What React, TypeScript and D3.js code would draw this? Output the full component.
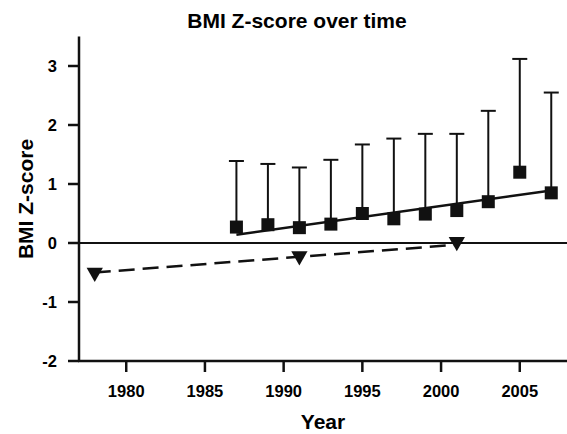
import React from "react";
import * as d3 from "d3";

const years = [1987, 1989, 1991, 1993, 1995, 1997, 1999, 2001, 2003, 2005, 2007];
const meanZ = [0.27, 0.31, 0.26, 0.32, 0.5, 0.41, 0.49, 0.55, 0.7, 1.2, 0.85];
const upperZ = [1.39, 1.34, 1.28, 1.41, 1.67, 1.77, 1.85, 1.85, 2.24, 3.12, 2.55];
const fitYears = [1987, 2007];
const fitZ = [0.14, 0.89];
const triYears = [1978, 1991, 2001];
const triZ = [-0.5, -0.22, 0.02];
const triFitYears = [1978, 2001];
const triFitZ = [-0.5, -0.03];
const xTicks = [1980, 1985, 1990, 1995, 2000, 2005];
const yTicks = [-2, -1, 0, 1, 2, 3];

const W = 567;
const H = 434;
const FONT = "'Liberation Sans', Arial, Helvetica, sans-serif";

export default function App() {
  const x = d3.scaleLinear().domain([1977, 2008]).range([79, 567]);
  const y = d3.scaleLinear().domain([-2, 3.5]).range([361, 36.5]);
  const line = d3.line<[number, number]>().x((d) => x(d[0])).y((d) => y(d[1]));
  const fit = line(fitYears.map((v, i) => [v, fitZ[i]] as [number, number]));
  const triFit = line(triFitYears.map((v, i) => [v, triFitZ[i]] as [number, number]));
  const sq = 13;
  const cap = 15;
  const tri = d3.symbol().type(d3.symbolTriangle).size(115)();

  return (
    <svg
      width={W}
      height={H}
      style={{ position: "absolute", left: 0, top: 0, background: "#fff" }}
      fontFamily={FONT}
    >
      <rect width={W} height={H} fill="#fff" />
      <text x={297} y={28} textAnchor="middle" fontSize={21} fontWeight="bold">
        BMI Z-score over time
      </text>
      {/* zero line */}
      <line x1={x(1977)} x2={x(2008)} y1={y(0)} y2={y(0)} stroke="#111" strokeWidth={2} />
      {/* y axis */}
      <line x1={79} x2={79} y1={y(3.5)} y2={y(-2) + 1} stroke="#111" strokeWidth={2.5} />
      {yTicks.map((t) => (
        <g key={t}>
          <line x1={68} x2={79} y1={y(t)} y2={y(t)} stroke="#111" strokeWidth={2.5} />
          <text x={57} y={y(t)} dy="0.36em" textAnchor="end" fontSize={16.5} fontWeight="bold">
            {t}
          </text>
        </g>
      ))}
      {/* x axis */}
      <line x1={78} x2={567} y1={y(-2)} y2={y(-2)} stroke="#111" strokeWidth={2.5} />
      {xTicks.map((t) => (
        <g key={t}>
          <line x1={x(t)} x2={x(t)} y1={y(-2)} y2={y(-2) + 11} stroke="#111" strokeWidth={2.5} />
          <text x={x(t)} y={397} textAnchor="middle" fontSize={16.5} fontWeight="bold">
            {t}
          </text>
        </g>
      ))}
      <text x={323} y={429} textAnchor="middle" fontSize={21} fontWeight="bold">
        Year
      </text>
      <text
        transform={`translate(33,199) rotate(-90)`}
        textAnchor="middle"
        fontSize={21}
        fontWeight="bold"
      >
        BMI Z-score
      </text>
      {/* error bars */}
      {years.map((yr, i) => (
        <g key={yr} stroke="#111" strokeWidth={2}>
          <line x1={x(yr)} x2={x(yr)} y1={y(meanZ[i])} y2={y(upperZ[i])} />
          <line x1={x(yr) - cap / 2} x2={x(yr) + cap / 2} y1={y(upperZ[i])} y2={y(upperZ[i])} />
        </g>
      ))}
      <path d={fit || ""} fill="none" stroke="#111" strokeWidth={2.5} />
      <path d={triFit || ""} fill="none" stroke="#111" strokeWidth={2.5} strokeDasharray="16,8" />
      {years.map((yr, i) => (
        <rect
          key={yr}
          x={x(yr) - sq / 2}
          y={y(meanZ[i]) - sq / 2}
          width={sq}
          height={sq}
          fill="#111"
        />
      ))}
      {triYears.map((yr, i) => (
        <path
          key={yr}
          d={tri || ""}
          transform={`translate(${x(yr)},${y(triZ[i])}) rotate(180)`}
          fill="#111"
        />
      ))}
    </svg>
  );
}
